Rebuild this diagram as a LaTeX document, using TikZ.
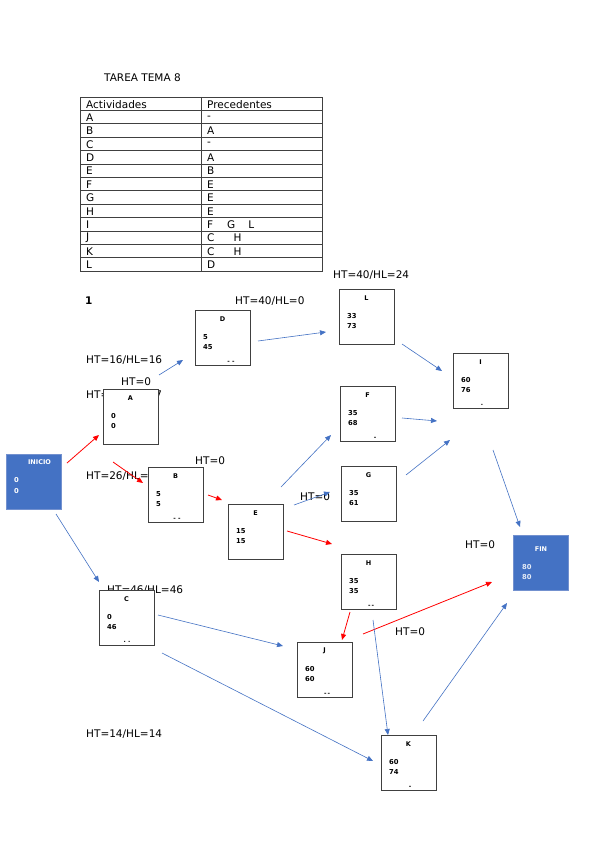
\documentclass[tikz,border=0pt]{standalone}
\usepackage{fontspec}
\setmainfont{DejaVu Sans}
\usetikzlibrary{calc,arrows.meta}
\definecolor{boxblue}{HTML}{4472C4}
\definecolor{boxedge}{HTML}{7391CF}
\definecolor{linegray}{HTML}{404040}
\newcommand{\actbox}[8]{%
  \node[abox] (#1) at (#2,#3) {};
  \node[atit] (#1-t) at ($(#1.north west)+(27.5,9)$) {#4};
  \node[anum] (#1-a) at ($(#1.north west)+(8,27)$) {#5};
  \node[anum] (#1-b) at ($(#1.north west)+(8,37)$) {#6};
  \node[amark] (#1-m) at ($(#1.north west)+(#8,52)$) {#7};
}
\begin{document}
\begin{tikzpicture}[x=1pt,y=-1pt,
  lbl/.style={font=\fontsize{10.5}{12}\selectfont, inner sep=0, anchor=west},
  tbl/.style={font=\fontsize{10.5}{12}\selectfont, inner sep=0, anchor=west},
  abox/.style={draw=linegray, line width=1.1pt, fill=white, minimum width=55pt, minimum height=55pt, inner sep=0, anchor=north west},
  bbox/.style={draw=boxedge, line width=0.8pt, fill=boxblue, minimum width=55pt, minimum height=55pt, inner sep=0, anchor=north west},
  atit/.style={font=\fontsize{6.5}{7}\selectfont\bfseries, inner sep=0},
  anum/.style={font=\fontsize{6.8}{7}\selectfont\bfseries, inner sep=0, anchor=west},
  amark/.style={font=\fontsize{6}{7}\selectfont\bfseries, inner sep=0},
  wtxt/.style={text=white},
  barr/.style={draw=boxblue, line width=0.6pt, -{Triangle[length=6pt,width=5pt]}},
  rarr/.style={draw=red, line width=0.8pt, -{Triangle[length=6pt,width=5pt]}}]
\useasboundingbox (0,0) rectangle (599,848);
\fill[white] (0,0) rectangle (599,848);

% title and table
\node[lbl] (title) at (104,78) {TAREA TEMA 8};
\draw[linegray, line width=0.6pt] (80,97) rectangle (322,271);
\draw[linegray, line width=0.6pt] (201,97) -- (201,271);
\foreach \i in {1,...,12} \draw[linegray, line width=0.6pt] (80,{97+\i*13.385}) -- (322,{97+\i*13.385});
\foreach \a/\b [count=\i from 0] in {Actividades/Precedentes, A/-, B/A, C/-, D/A, E/B, F/E, G/E, H/E, I/{F\hspace{14pt}G\hspace{13pt}L}, J/{C\hspace{19pt}H}, K/{C\hspace{19pt}H}, L/D}{
  \node[tbl] (ra\i) at (86,{97.5+(\i+0.5)*13.385}) {\a};
  \node[tbl] (rb\i) at (207,{97.5+(\i+0.5)*13.385}) {\b};
}

% labels (some are partly covered by boxes)
\node[lbl, font=\fontsize{10.5}{12}\selectfont\bfseries] (one) at (85,301) {1};
\node[lbl] (l40a) at (235,301) {HT=40/HL=0};
\node[lbl] (l40b) at (333,275) {HT=40/HL=24};
\node[lbl] (l16) at (86,360) {HT=16/HL=16};
\node[lbl] (l0a) at (121,382) {HT=0};
\node[lbl] (l17) at (86,395) {HT=17/HL=17};
\node[lbl] (l26) at (86,476) {HT=26/HL=26};
\node[lbl] (l0b) at (195,461) {HT=0};
\node[lbl] (l0c) at (300,497) {HT=0};
\node[lbl] (l46) at (107,590.5) {HT=46/HL=46};
\node[lbl] (l0d) at (465,545) {HT=0};
\node[lbl] (l0e) at (395,632) {HT=0};
\node[lbl] (l14) at (86,734) {HT=14/HL=14};

% activity boxes
\actbox{A}{103}{389}{A}{0}{0}{}{29}
\actbox{D}{195}{310}{D}{5}{45}{- -}{36}
\actbox{L}{339}{289}{L}{33}{73}{}{30}
\actbox{I}{453}{353}{I}{60}{76}{.}{29}
\actbox{F}{340}{386}{F}{35}{68}{-}{35}
\actbox{G}{341}{466}{G}{35}{61}{}{30}
\actbox{B}{148}{467}{B}{5}{5}{- -}{29}
\actbox{E}{228}{504}{E}{15}{15}{}{30}
\actbox{H}{341}{554}{H}{35}{35}{-\,-}{30}
\actbox{C}{99}{590}{C}{0}{46}{.\,\,.}{28}
\actbox{J}{297}{642}{J}{60}{60}{-\,-}{30}
\actbox{K}{381}{735}{K}{60}{74}{-}{29}

% start and end
\node[bbox] (ini) at (6,454) {};
\node[atit, wtxt] (ini-t) at ($(ini.north west)+(33.5,8)$) {INICIO};
\node[anum, wtxt] (ini-a) at ($(ini.north west)+(8,26)$) {0};
\node[anum, wtxt] (ini-b) at ($(ini.north west)+(8,37)$) {0};
\node[bbox] (fin) at (513,535) {};
\node[atit, wtxt] (fin-t) at ($(fin.north west)+(28,14)$) {FIN};
\node[anum, text=white!85!boxblue] (fin-a) at ($(fin.north west)+(9,32)$) {80};
\node[anum, text=white!85!boxblue] (fin-b) at ($(fin.north west)+(9,42)$) {80};

% connector end points
\coordinate (p1s) at (67,463);   \coordinate (p1e) at (99,435);
\coordinate (p2s) at (113,462);  \coordinate (p2e) at (143,483);
\coordinate (p3s) at (208,495);  \coordinate (p3e) at (222,500);
\coordinate (p4s) at (287,531);  \coordinate (p4e) at (332,544);
\coordinate (p5s) at (350,612);  \coordinate (p5e) at (342,640);
\coordinate (p6s) at (363,634);  \coordinate (p6e) at (492,582);
\coordinate (q1s) at (159,375);  \coordinate (q1e) at (183,360);
\coordinate (q2s) at (258,341);  \coordinate (q2e) at (326,332);
\coordinate (q3s) at (402,344);  \coordinate (q3e) at (442,371);
\coordinate (q4s) at (402,418);  \coordinate (q4e) at (437,421);
\coordinate (q5s) at (406,475);  \coordinate (q5e) at (450,440);
\coordinate (q6s) at (281,487);  \coordinate (q6e) at (331,435);
\coordinate (q7s) at (294,505);  \coordinate (q7e) at (330,492);
\coordinate (q8s) at (493,450);  \coordinate (q8e) at (520,527);
\coordinate (q9s) at (56,514);   \coordinate (q9e) at (99,582);
\coordinate (q10s) at (158,615); \coordinate (q10e) at (283,646);
\coordinate (q11s) at (162,653); \coordinate (q11e) at (373,761);
\coordinate (q12s) at (373,620); \coordinate (q12e) at (388,735);
\coordinate (q13s) at (423,721); \coordinate (q13e) at (507,603);

% red (critical) arrows
\draw[rarr] (p1s) -- (p1e);
\draw[rarr] (p2s) -- (p2e);
\draw[rarr] (p3s) -- (p3e);
\draw[rarr] (p4s) -- (p4e);
\draw[rarr] (p5s) -- (p5e);
\draw[rarr] (p6s) -- (p6e);
% blue arrows
\draw[barr] (q1s) -- (q1e);
\draw[barr] (q2s) -- (q2e);
\draw[barr] (q3s) -- (q3e);
\draw[barr] (q4s) -- (q4e);
\draw[barr] (q5s) -- (q5e);
\draw[barr] (q6s) -- (q6e);
\draw[barr] (q7s) -- (q7e);
\draw[barr] (q8s) -- (q8e);
\draw[barr] (q9s) -- (q9e);
\draw[barr] (q10s) -- (q10e);
\draw[barr] (q11s) -- (q11e);
\draw[barr] (q12s) -- (q12e);
\draw[barr] (q13s) -- (q13e);
\end{tikzpicture}
\end{document}
